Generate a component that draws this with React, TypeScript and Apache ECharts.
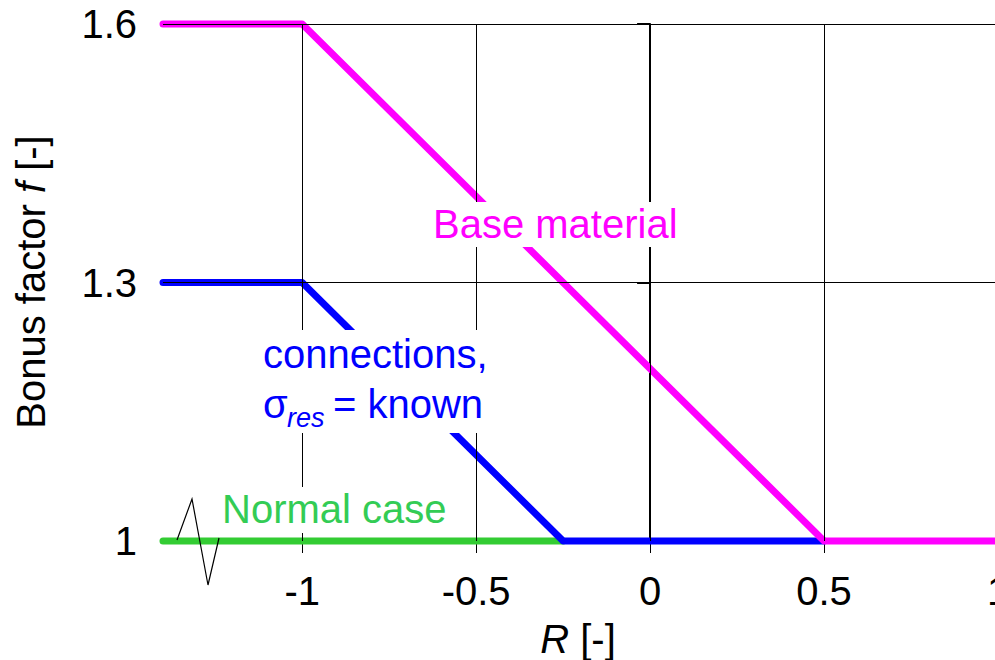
import React, { useEffect, useRef } from "react";
import * as echarts from "echarts";

const xTicks = [-1, -0.5, 0, 0.5, 1];
const yTicks = [1, 1.3, 1.6];
const yGridValues = [1.3, 1.6];

const baseX = [-1.4, -1, 0.5, 1];
const baseY = [1.6, 1.6, 1.0, 1.0];
const connX = [-1.4, -1, -0.25, 0.5];
const connY = [1.3, 1.3, 1.0, 1.0];
const normalX = [-1.4, -0.25];
const normalY = [1.0, 1.0];

const FONT = "'Liberation Sans', Arial, Helvetica, sans-serif";
const MAGENTA = "#ff00ff";
const BLUE = "#0000ff";
const GREEN_LINE = "#33cc33";
const GREEN_TEXT = "#33cc55";

export default function App() {
  const ref = useRef<HTMLDivElement>(null);
  useEffect(() => {
    if (!ref.current) return;
    const chart = echarts.init(ref.current, null, { renderer: "svg" });
    const lineSeries = (xs: number[], ys: number[], color: string) => ({
      type: "line",
      data: xs.map((x, i) => [x, ys[i]]),
      symbol: "none",
      showSymbol: false,
      clip: false,
      z: 3,
      lineStyle: { color, width: 7, cap: "round", join: "round" },
      emphasis: { disabled: true },
    });
    const option: any = {
      animation: false,
      backgroundColor: "#ffffff",
      textStyle: { fontFamily: FONT },
      grid: {
        left: 163,
        right: -3,
        top: 24,
        bottom: 119,
        containLabel: false,
        outerBoundsMode: "none",
      },
      xAxis: {
        type: "value",
        min: -1.4,
        max: 1,
        axisLine: { show: true, lineStyle: { color: "#000", width: 1 } },
        axisTick: {
          show: true,
          customValues: xTicks,
          length: 12,
          inside: false,
          lineStyle: { color: "#000", width: 1 },
        },
        axisLabel: {
          customValues: xTicks,
          fontSize: 40,
          color: "#000",
          fontFamily: FONT,
          margin: 30,
          formatter: (v: number) => String(v),
        },
        splitLine: { show: false },
      },
      yAxis: {
        type: "value",
        min: 1,
        max: 1.6,
        axisLine: { show: true, lineStyle: { color: "#000", width: 2 } },
        axisTick: {
          show: true,
          customValues: yTicks,
          length: 13,
          lineStyle: { color: "#000", width: 2 },
        },
        axisLabel: {
          customValues: yTicks,
          fontSize: 40,
          color: "#000",
          fontFamily: FONT,
          margin: 26,
          formatter: (v: number) => (Math.abs(v - 1) < 1e-9 ? "1" : v.toFixed(1)),
        },
        splitLine: { show: false },
      },
      series: [
        {
          type: "line",
          data: [[-1.4, 1]],
          symbol: "none",
          showSymbol: false,
          lineStyle: { width: 0, opacity: 0 },
          z: 1,
          silent: true,
          markLine: {
            silent: true,
            animation: false,
            symbol: ["none", "none"],
            label: { show: false },
            emphasis: { disabled: true },
            lineStyle: { color: "#000", width: 1, type: "solid" },
            data: [
              ...xTicks.map((v) => ({ xAxis: v })),
              ...yGridValues.map((v) => ({ yAxis: v })),
            ],
          },
        },
        lineSeries(normalX, normalY, GREEN_LINE),
        lineSeries(connX, connY, BLUE),
        lineSeries(baseX, baseY, MAGENTA),
      ],
      graphic: [
        { type: "rect", z: 50, shape: { x: 430, y: 202, width: 252, height: 45 }, style: { fill: "#fff" } },
        { type: "rect", z: 50, shape: { x: 258, y: 330, width: 237, height: 103 }, style: { fill: "#fff" } },
        { type: "rect", z: 50, shape: { x: 219, y: 487, width: 233, height: 46 }, style: { fill: "#fff" } },
        {
          type: "text", z: 60, x: 433, y: 224,
          style: { text: "Base material", fill: MAGENTA, fontSize: 40, fontFamily: FONT, align: "left", verticalAlign: "middle" },
        },
        {
          type: "text", z: 60, x: 263, y: 354,
          style: { text: "connections,", fill: BLUE, fontSize: 40, fontFamily: FONT, align: "left", verticalAlign: "middle" },
        },
        {
          type: "text", z: 60, x: 263, y: 404,
          style: { text: "σ", fill: BLUE, fontSize: 40, fontFamily: FONT, align: "left", verticalAlign: "middle" },
        },
        {
          type: "text", z: 60, x: 287, y: 418,
          style: { text: "res", fill: BLUE, fontSize: 27, fontStyle: "italic", fontFamily: FONT, align: "left", verticalAlign: "middle" },
        },
        {
          type: "text", z: 60, x: 333, y: 404,
          style: { text: "= known", fill: BLUE, fontSize: 40, fontFamily: FONT, align: "left", verticalAlign: "middle" },
        },
        {
          type: "text", z: 60, x: 222, y: 509,
          style: { text: "Normal case", fill: GREEN_TEXT, fontSize: 40, fontFamily: FONT, align: "left", verticalAlign: "middle" },
        },
        {
          type: "text", z: 60, x: 31, y: 282, rotation: Math.PI / 2,
          style: {
            text: "{n|Bonus factor }{i|f}{n| [-]}",
            align: "center",
            verticalAlign: "middle",
            rich: {
              n: { fontSize: 40, fontFamily: FONT, fill: "#000", color: "#000" },
              i: { fontSize: 40, fontFamily: FONT, fontStyle: "italic", fill: "#000", color: "#000" },
            },
          },
        },
        {
          type: "text", z: 60, x: 578, y: 639,
          style: {
            text: "{i|R}{n| [-]}",
            align: "center",
            verticalAlign: "middle",
            rich: {
              n: { fontSize: 40, fontFamily: FONT, fill: "#000", color: "#000" },
              i: { fontSize: 40, fontFamily: FONT, fontStyle: "italic", fill: "#000", color: "#000" },
            },
          },
        },
        {
          type: "polyline", z: 70,
          shape: { points: [[177, 540], [192, 499], [208, 585], [219, 538]] },
          style: { stroke: "#000", lineWidth: 1.2, fill: "none" },
        },
      ],
    };
    chart.setOption(option);
    return () => chart.dispose();
  }, []);
  return (
    <div
      ref={ref}
      style={{ position: "absolute", left: 0, top: 0, width: 995, height: 660, background: "#fff" }}
    />
  );
}
